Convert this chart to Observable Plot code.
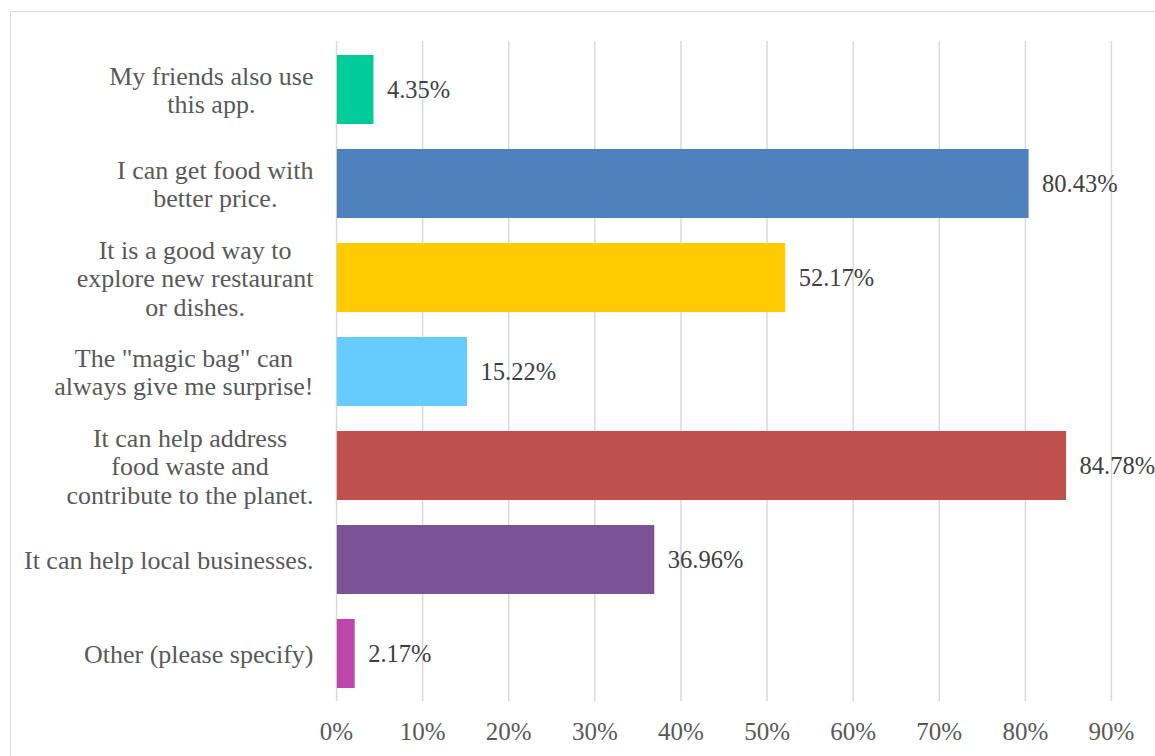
<!DOCTYPE html>
<html>
<head>
<meta charset="utf-8">
<script src="https://cdn.jsdelivr.net/npm/d3@7"></script>
<script src="https://cdn.jsdelivr.net/npm/@observablehq/plot@0.6"></script>
<style>
  html, body { margin: 0; padding: 0; background: #fff; }
  #wrap { position: relative; width: 1155px; height: 756px; overflow: hidden; }
  #frame { position: absolute; left: 10px; top: 11px; width: 1200px; height: 800px; border: 1.5px solid #d9d9d9; box-sizing: border-box; }
  #chart { position: absolute; left: 0; top: 0; }
</style>
</head>
<body>
<div id="wrap"><div id="frame"></div><div id="chart"></div></div>
<script>
const categories = [
  "My friends also use\nthis app.",
  "I can get food with\nbetter price.",
  "It is a good way to\nexplore new restaurant\nor dishes.",
  "The \"magic bag\" can\nalways give me surprise!",
  "It can help address\nfood waste and\ncontribute to the planet.",
  "It can help local businesses.",
  "Other (please specify)"
];
const values = [4.35, 80.43, 52.17, 15.22, 84.78, 36.96, 2.17];
const colors = ["#00CC99", "#4F81BD", "#FFCC00", "#66CCFF", "#C0504D", "#7B5296", "#BE45AA"];
const xTicks = [0, 10, 20, 30, 40, 50, 60, 70, 80, 90];

const FONT = "'Liberation Serif', 'Times New Roman', serif";
const FS = 26;
const data = categories.map((c, i) => ({cat: c, value: values[i], color: colors[i]}));

const ctx = document.createElement("canvas").getContext("2d");
ctx.font = `${FS}px ${FONT}`;
const maxLine = s => d3.max(s.split("\n"), l => ctx.measureText(l).width);

const labelMarks = data.map(d => Plot.text([d], {
  x: () => 0, y: "cat", text: "cat",
  textAnchor: "middle", lineAnchor: "middle", lineHeight: 1.1,
  dx: -(23 + maxLine(d.cat) / 2),
  fill: "#595959", fontSize: FS, fontFamily: FONT
}));

const chart = Plot.plot({
  width: 1155, height: 756,
  marginLeft: 336, marginRight: 44, marginTop: 41, marginBottom: 55,
  style: {fontFamily: FONT, background: "transparent"},
  x: {domain: [0, 90], ticks: xTicks, tickFormat: d => d + "%", label: null},
  y: {domain: categories, paddingInner: 0.27, paddingOuter: 0.135, axis: null},
  marks: [
    Plot.gridX(xTicks, {stroke: "#d9d9d9", strokeWidth: 1.5, strokeOpacity: 1}),
    Plot.axisX({ticks: xTicks, tickFormat: d => d + "%", tickSize: 0, tickPadding: 21, fontSize: 25, color: "#595959", label: null}),
    Plot.barX(data, {x1: 0.1, x2: "value", y: "cat", fill: "color"}),
    Plot.text(data, {x: "value", y: "cat", text: d => d.value.toFixed(2) + "%", textAnchor: "start", dx: 13, fill: "#404040", fontSize: 24.5}),
    ...labelMarks
  ]
});
document.getElementById("chart").appendChild(chart);
</script>
</body>
</html>
